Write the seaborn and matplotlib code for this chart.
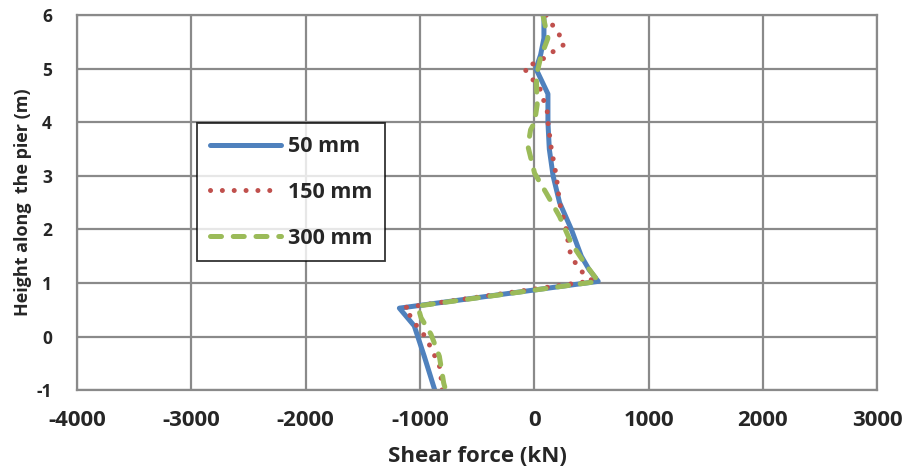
import pandas as pd
import matplotlib
matplotlib.use('Agg')
import matplotlib.pyplot as plt
import seaborn as sns

# Shear force profiles (kN vs height in m)
h_50 = [6.0, 5.57, 5.26, 5.0, 4.53, 4.0, 3.5, 3.0, 2.5, 2.0, 1.5, 1.25, 1.03, 0.53, 0.2, -0.37, -1.0]
v_50 = [85, 85, 56, 15, 120, 120, 132, 165, 222, 325, 412, 480, 560, -1180, -1050, -962, -870]

h_150 = [6.0, 5.8, 5.6, 5.45, 5.33, 5.2, 5.1, 5.0, 4.83, 4.65, 4.2, 4.0, 3.5, 3.0, 2.5, 2.0,
         1.62, 1.44, 1.22, 1.04, 0.54, 0.41, 0.22, 0.07, -0.15, -0.54, -0.77, -1.0]
v_150 = [105, 165, 230, 260, 172, 90, -3, -85, -26, 47, 114, 120, 150, 193, 222, 280,
         307, 339, 412, 510, -1137, -1093, -1035, -976, -918, -830, -815, -806]

h_300 = [6.0, 5.57, 5.2, 4.86, 4.33, 4.0, 3.86, 3.55, 3.05, 2.68, 2.24, 1.74, 1.37, 1.03,
         0.57, 0.35, 0.04, -0.37, -0.87, -1.0]
v_300 = [76, 120, 55, 18, 26, 3, -32, -55, 3, 105, 222, 325, 441, 560,
         -1020, -990, -903, -830, -792, -775]

labels = ['50 mm', '150 mm', '300 mm']
colors = ['#4F81BD', '#C0504D', '#9BBB59']

x_ticks = [-4000, -3000, -2000, -1000, 0, 1000, 2000, 3000]
y_ticks = [-1, 0, 1, 2, 3, 4, 5, 6]

sns.set_theme(style='white')
plt.rcParams['font.family'] = ['Open Sans', 'DejaVu Sans']
plt.rcParams['axes.unicode_minus'] = False

fig = plt.figure(figsize=(9.07, 4.74), dpi=100)
ax = fig.add_axes([0.085, 0.177, 0.882, 0.791])

series = [(v_50, h_50), (v_150, h_150), (v_300, h_300)]
styles = [
    dict(linestyle='-', linewidth=3.6, solid_capstyle='round'),
    dict(linestyle=(0, (0.01, 2.36)), linewidth=3.6, dash_capstyle='round'),
    dict(linestyle=(0, (2.2, 2.35)), linewidth=3.6, dash_capstyle='round'),
]
for (v, h), lab, col, st in zip(series, labels, colors, styles):
    df = pd.DataFrame({'shear': v, 'height': h})
    sns.lineplot(data=df, x='shear', y='height', sort=False, estimator=None,
                 color=col, label=lab, ax=ax, **st)

ax.set_xlim(-4000, 3000)
ax.set_ylim(-1, 6)
ax.set_xticks(x_ticks)
ax.set_yticks(y_ticks)
ax.grid(True, color='#8a8a8a', linewidth=1.6)
ax.set_axisbelow(True)
for s in ax.spines.values():
    s.set_color('#8a8a8a')
    s.set_linewidth(1.6)
ax.tick_params(axis='x', direction='out', length=5, width=1.2, color='#8a8a8a',
               labelsize=16, pad=9)
ax.tick_params(axis='y', direction='out', length=6, width=1.2, color='#8a8a8a',
               labelsize=12.5, pad=12)
for t in ax.get_xticklabels() + ax.get_yticklabels():
    t.set_fontweight('bold')

ax.set_xlabel('Shear force (kN)', fontsize=16, fontweight='bold', labelpad=11)
ax.set_ylabel('Height along  the pier (m)', fontsize=13, fontweight='bold', labelpad=3)

leg = ax.legend(loc='upper left', bbox_to_anchor=(0.15, 0.712), borderaxespad=0,
                frameon=True, fancybox=False, edgecolor='black', handlelength=3.3,
                labelspacing=1.15, borderpad=0.6, handletextpad=0.3,
                prop={'size': 15.5, 'weight': 'bold'})
leg.get_frame().set_linewidth(1.3)

fig.savefig('out.png', dpi=100)
